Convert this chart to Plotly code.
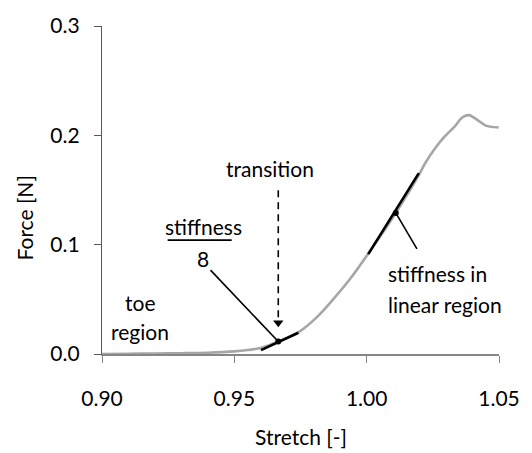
import plotly.graph_objects as go

# Force–stretch response of the specimen
stretch = [0.900, 0.910, 0.920, 0.930, 0.940, 0.950, 0.955, 0.960, 0.9666,
           0.9743, 0.9817, 0.9878, 0.9940, 1.0001, 1.0110, 1.0198, 1.0221,
           1.0258, 1.0295, 1.0332, 1.0362, 1.0387, 1.0419, 1.0450, 1.0499]
force = [0.0000, 0.0002, 0.0004, 0.0007, 0.0012, 0.0024, 0.0036, 0.0055, 0.0114,
         0.0200, 0.0349, 0.0513, 0.0695, 0.0901, 0.1290, 0.1640, 0.1745,
         0.1880, 0.1990, 0.2080, 0.2165, 0.2185, 0.2140, 0.2089, 0.2071]

# Transition point and its tangent (stiffness / 8)
transition_pt = (0.9666, 0.0114)
toe_tangent_x = [0.9601, 0.9742]
toe_tangent_y = [0.0036, 0.0194]

# Point in the linear region and its tangent
linear_pt = (1.0110, 0.1290)
lin_tangent_x = [1.0006, 1.0197]
lin_tangent_y = [0.0913, 0.1654]

x_ticks = [0.90, 0.95, 1.00, 1.05]
x_tick_text = ["0.90", "0.95", "1.00", "1.05"]
y_ticks = [0.0, 0.1, 0.2, 0.3]
y_tick_text = ["0.0", "0.1", "0.2", "0.3"]

FONT = "Lato"
FS = 21

fig = go.Figure()

fig.add_trace(go.Scatter(x=stretch, y=force, mode="lines",
                         line=dict(color="#a6a6a6", width=2.6, shape="spline", smoothing=0.8),
                         hoverinfo="skip", cliponaxis=False))

fig.add_trace(go.Scatter(x=toe_tangent_x, y=toe_tangent_y, mode="lines",
                         line=dict(color="black", width=2.6), hoverinfo="skip"))
fig.add_trace(go.Scatter(x=lin_tangent_x, y=lin_tangent_y, mode="lines",
                         line=dict(color="black", width=2.6), hoverinfo="skip"))

fig.add_trace(go.Scatter(x=[transition_pt[0], linear_pt[0]],
                         y=[transition_pt[1], linear_pt[1]], mode="markers",
                         marker=dict(color="black", size=6), hoverinfo="skip"))

# Leader lines
fig.add_trace(go.Scatter(x=[0.9410, transition_pt[0]], y=[0.0767, transition_pt[1]],
                         mode="lines", line=dict(color="black", width=1.6), hoverinfo="skip"))
fig.add_trace(go.Scatter(x=[linear_pt[0], 1.0190], y=[linear_pt[1], 0.0961],
                         mode="lines", line=dict(color="black", width=1.6), hoverinfo="skip"))

# Fraction bar for stiffness / 8
fig.add_trace(go.Scatter(x=[0.9248, 0.9490], y=[0.1041, 0.1041],
                         mode="lines", line=dict(color="black", width=1.8), hoverinfo="skip"))

# Dashed arrow pointing at the transition
fig.add_trace(go.Scatter(x=[transition_pt[0], transition_pt[0]], y=[0.1498, 0.033],
                         mode="lines", line=dict(color="black", width=1.6, dash="7px,5px"),
                         hoverinfo="skip"))
fig.add_trace(go.Scatter(x=[transition_pt[0]], y=[0.0285], mode="markers",
                         marker=dict(symbol="triangle-down", color="black", size=9),
                         hoverinfo="skip"))

labels = [
    ("toe", 0.9144, 0.0475, "center"),
    ("region", 0.9144, 0.0206, "center"),
    ("stiffness", 0.9383, 0.1164, "center"),
    ("8", 0.9383, 0.0878, "center"),
    ("transition", 0.9636, 0.1700, "center"),
    ("stiffness in", 1.0072, 0.0734, "left"),
    ("linear region", 1.0072, 0.0457, "left"),
]
for text, x, y, anchor in labels:
    fig.add_annotation(x=x, y=y, text=text, showarrow=False, xanchor=anchor,
                       yanchor="middle", font=dict(family=FONT, size=FS, color="black"))

# Axis titles
fig.add_annotation(xref="paper", yref="paper", x=-0.195, y=0.415, text="Force [N]",
                   textangle=-90, showarrow=False, xanchor="center", yanchor="middle",
                   font=dict(family=FONT, size=FS, color="black"))
fig.add_annotation(xref="paper", yref="paper", x=0.5, y=-0.251, text="Stretch [-]",
                   showarrow=False, xanchor="center", yanchor="middle",
                   font=dict(family=FONT, size=FS, color="black"))

fig.update_layout(
    width=532, height=453,
    margin=dict(l=102, r=23, t=19, b=99),
    plot_bgcolor="white", paper_bgcolor="white",
    showlegend=False,
    font=dict(family=FONT, size=FS, color="black"),
)
fig.update_xaxes(range=[0.90, 1.05], tickvals=x_ticks, ticktext=x_tick_text,
                 showgrid=False, zeroline=False, showline=True, linecolor="#868686",
                 linewidth=1.5, ticks="outside", ticklen=7, tickcolor="#868686",
                 tickwidth=1.3, ticklabelstandoff=18)
fig.update_yaxes(range=[0.0, 0.3], tickvals=y_ticks, ticktext=y_tick_text,
                 showgrid=False, zeroline=False, showline=True, linecolor="#595959",
                 linewidth=1.3, ticks="outside", ticklen=7, tickcolor="#595959",
                 tickwidth=1.3, ticklabelstandoff=10)

fig.write_html("out.html")
